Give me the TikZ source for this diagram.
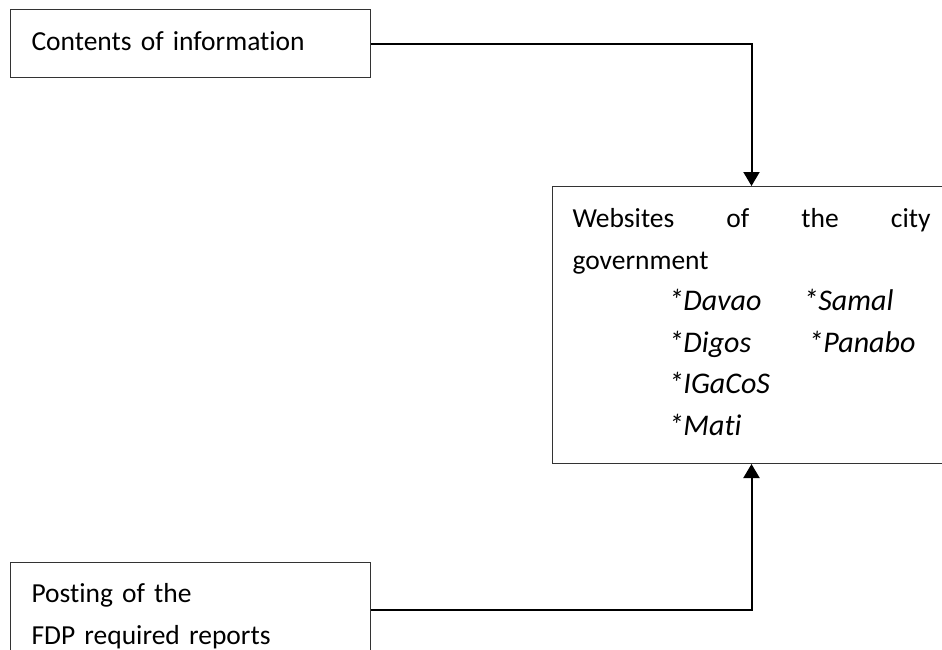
\documentclass[tikz,border=0pt]{standalone}
\usepackage{fontspec}
\setmainfont{Carlito}[Ligatures=NoCommon]
\usetikzlibrary{arrows.meta, positioning}
\newcommand{\bodyfont}{\fontsize{27.5pt}{41.6pt}\selectfont}
\newcommand{\town}[1]{{\fontsize{30pt}{41.6pt}\selectfont\itshape *#1}}

\begin{document}
\begin{tikzpicture}[x=1pt, y=-1pt,
  box/.style={rectangle, draw=black!80, line width=1pt, inner xsep=20pt, inner ysep=0pt,
              font=\bodyfont, align=left, anchor=north west},
  flow/.style={-{Triangle[width=16pt, length=14pt]}, line width=2pt, black},
]
\clip (0,0) rectangle (942,650);
\node[box, minimum width=360pt, text width=318pt, inner xsep=21pt] (info) at (10,9.5)
  {\rule[-27pt]{0pt}{67.5pt}Contents of information};
\node[box, minimum width=398pt, text width=358pt] (web) at (552,186)
  {\rule{0pt}{41pt}Websites\hfill of\hfill the\hfill city\\
   government\\
   \hspace*{96pt}\makebox[135pt][l]{\town{Davao}}\town{Samal}\\
   \hspace*{96pt}\makebox[140pt][l]{\town{Digos}}\town{Panabo}\\
   \hspace*{96pt}\town{IGaCoS}\\
   \hspace*{96pt}\town{Mati}\rule[-28pt]{0pt}{28pt}};
\node[box, minimum width=360pt, text width=318pt, inner xsep=21pt] (post) at (10,562)
  {\rule{0pt}{40pt}Posting of the\\
   FDP required reports\rule[-12.4pt]{0pt}{12.4pt}};
\draw[flow] (info.east) -| (web.north);
\draw[flow] (post.east) -| (web.south);
\end{tikzpicture}
\end{document}
